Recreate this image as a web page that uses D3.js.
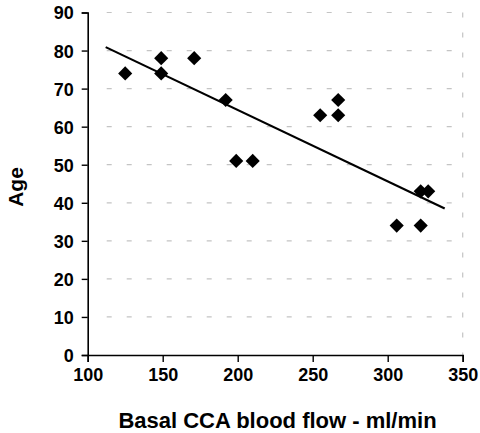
<!DOCTYPE html>
<html>
<head>
<meta charset="utf-8">
<script src="https://cdn.jsdelivr.net/npm/d3@7"></script>
<style>
  html, body { margin: 0; padding: 0; background: #fff; }
  svg { display: block; }
  text { font-family: "Liberation Sans", Arial, sans-serif; font-weight: bold; fill: #000; }
</style>
</head>
<body>
<script>
// Data
const flow = [125, 149, 149, 171, 192, 199, 210, 255, 267, 267, 322, 327, 306, 322];
const age  = [74, 78, 74, 78, 67, 51, 51, 63, 63, 67, 43, 43, 34, 34];
const trendX = [112, 338];
const trendY = [80.9, 38.5];
const xTicks = [100, 150, 200, 250, 300, 350];
const yTicks = [0, 10, 20, 30, 40, 50, 60, 70, 80, 90];
const xTitle = "Basal CCA blood flow - ml/min";
const yTitle = "Age";

const W = 480, H = 433;
const mLeft = 87.7, mRight = 462.7, mTop = 12.5, mBottom = 355;

const svg = d3.select("body").append("svg").attr("width", W).attr("height", H);

const x = d3.scaleLinear().domain([100, 350]).range([mLeft, mRight]);
const y = d3.scaleLinear().domain([0, 90]).range([mBottom, mTop]);

// gridlines
const grid = svg.append("g");
grid.selectAll("line.h").data(yTicks.filter(d => d > 0)).join("line")
  .attr("x1", x(100) + 19).attr("x2", x(350))
  .attr("y1", d => y(d)).attr("y2", d => y(d))
  .attr("stroke", "#c4c4c4").attr("stroke-width", 1.2)
  .attr("stroke-dasharray", "5,15");
grid.append("line")
  .attr("x1", x(350)).attr("x2", x(350))
  .attr("y1", y(90)).attr("y2", y(0))
  .attr("stroke", "#c4c4c4").attr("stroke-width", 1.2)
  .attr("stroke-dasharray", "5,15");

// axes
const xAxis = d3.axisBottom(x).tickValues(xTicks).tickSize(7).tickPadding(6).tickFormat(d3.format("d"));
const yAxis = d3.axisLeft(y).tickValues(yTicks).tickSize(6).tickPadding(8).tickFormat(d3.format("d"));

const gx = svg.append("g").attr("transform", `translate(0,${mBottom})`).call(xAxis);
const gy = svg.append("g").attr("transform", `translate(${mLeft},0)`).call(yAxis);
[gx, gy].forEach(g => {
  g.select(".domain").attr("stroke", "#000").attr("stroke-width", 1.6);
  g.selectAll(".tick line").attr("stroke", "#000").attr("stroke-width", 1.4);
  g.selectAll(".tick text").attr("font-family", "Liberation Sans, Arial, sans-serif")
    .attr("font-weight", "bold").attr("font-size", 18).attr("fill", "#000");
});
gy.selectAll(".tick text").attr("dy", "0.36em");

// trend line
const line = d3.line().x(d => x(d[0])).y(d => y(d[1]));
svg.append("path")
  .datum(d3.zip(trendX, trendY))
  .attr("d", line)
  .attr("fill", "none").attr("stroke", "#000").attr("stroke-width", 2.2);

// diamonds
const sym = d3.symbol().type(d3.symbolSquare).size(100);
svg.append("g").selectAll("path").data(d3.zip(flow, age)).join("path")
  .attr("d", sym)
  .attr("transform", d => `translate(${x(d[0])},${y(d[1])}) rotate(45)`)
  .attr("fill", "#000");

// titles
svg.append("text")
  .attr("x", (118 + 437) / 2).attr("y", 428)
  .attr("text-anchor", "middle").attr("font-size", 22)
  .text(xTitle);
svg.append("text")
  .attr("transform", `translate(23,187) rotate(-90)`)
  .attr("text-anchor", "middle").attr("font-size", 21)
  .text(yTitle);
</script>
</body>
</html>
